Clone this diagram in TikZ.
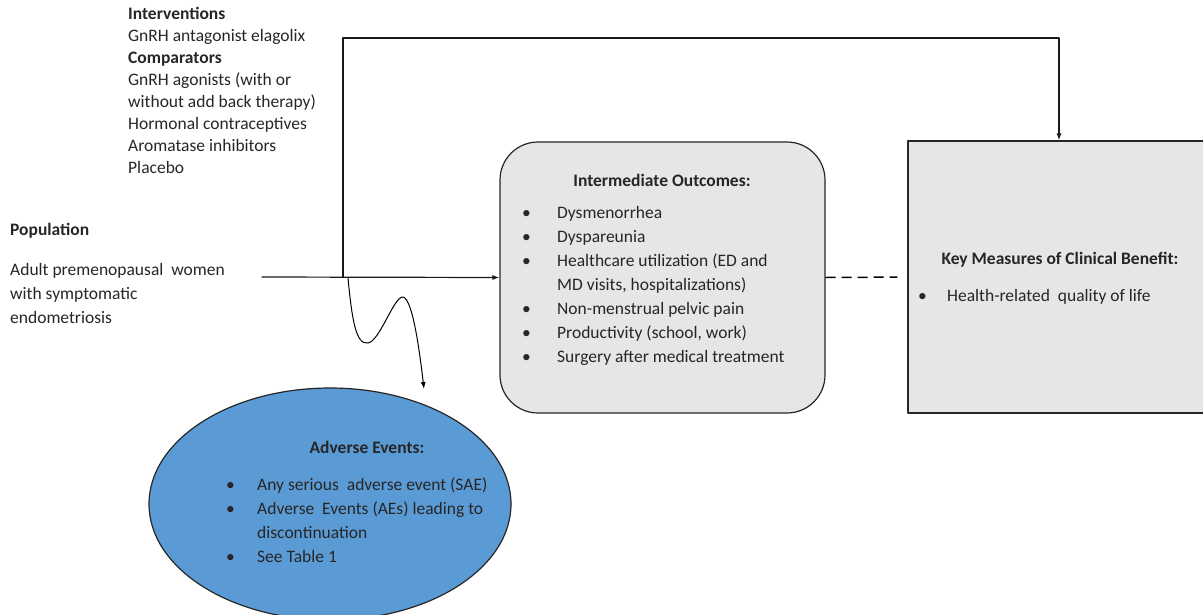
\documentclass[tikz,border=0pt]{standalone}
\usepackage{fontspec}
\setmainfont{Carlito}
\usetikzlibrary{calc, positioning}
\usetikzlibrary{arrows.meta}
\usetikzlibrary{shapes.geometric}

\definecolor{boxgray}{HTML}{E6E6E6}
\definecolor{aeblue}{HTML}{5B9BD5}
\definecolor{txtgray}{HTML}{262626}
\newcommand{\bitem}[1]{\makebox[35pt][l]{\textbullet}#1}

\begin{document}
\begin{tikzpicture}[x=1pt,y=-1pt,line cap=round,line join=round,
  txt/.style={inner sep=0pt, align=left, text=txtgray,
    font=\fontsize{17.5}{24}\selectfont},
  txttight/.style={txt, font=\fontsize{17.5}{22}\selectfont},
  boxline/.style={draw=black!85, line width=1.2pt},
  conn/.style={line width=1.2pt, draw=black!90}]
\path[use as bounding box] (0,0) rectangle (1203,614);
\clip (0,0) rectangle (1203,614);

% boxes
\node[boxline, fill=boxgray, rounded corners=38pt,
  minimum width=325pt, minimum height=271pt] (io) at (662.5,277.5) {};
\node[boxline, fill=boxgray, minimum width=302pt, minimum height=272pt]
  (km) at (1059,277) {};
\node[ellipse, boxline, fill=aeblue, minimum width=362pt,
  minimum height=232pt] (ae) at (330,504) {};

% left texts
\node[txttight, anchor=north west] (pico) at (128,7)
  {\textbf{Interventions}\\
   GnRH antagonist elagolix\\
   \textbf{Comparators}\\
   GnRH agonists (with or\\
   without add back therapy)\\
   Hormonal contraceptives\\
   Aromatase inhibitors\\
   Placebo};
\node[txt, anchor=north west] (poptitle) at (10,223) {\textbf{Population}};
\node[txt, anchor=north west] (pop) at (10,263)
  {Adult premenopausal\ \ women\\
   with symptomatic\\
   endometriosis};

% box texts
\node[txt] (iotitle) at (662,180) {\textbf{Intermediate Outcomes:}};
\node[txt, anchor=north west] (iolist) at (522,206)
  {\bitem{Dysmenorrhea}\\
   \bitem{Dyspareunia}\\
   \bitem{Healthcare utilization (ED and}\\
   \hspace*{35pt}MD visits, hospitalizations)\\
   \bitem{Non-menstrual pelvic pain}\\
   \bitem{Productivity (school, work)}\\
   \bitem{Surgery after medical treatment}};
\node[txt] (kmtitle) at (1060,260) {\textbf{Key Measures of Clinical Benefit:}};
\node[txt, anchor=north west] (kmlist) at (918,289)
  {\makebox[29pt][l]{\textbullet}Health-related\ \ quality of life};
\node[txt] (aetitle) at (367,447) {\textbf{Adverse Events:}};
\node[txt, anchor=north west] (aelist) at (226,477)
  {\makebox[31pt][l]{\textbullet}Any serious\ \ adverse event (SAE)\\
   \makebox[31pt][l]{\textbullet}Adverse\ \ Events (AEs) leading to\\
   \hspace*{31pt}discontinuation\\
   \makebox[31pt][l]{\textbullet}See Table 1};

% connectors
\coordinate (popend) at (262,277);
\coordinate (split) at (343,277);
\coordinate (wiggle) at (348,278);
\coordinate (aetip) at (424,389);

\draw[conn, -{Latex[length=7pt,width=5pt]}] (popend) -- (io.west);
\draw[conn, -{Latex[length=7pt,width=5pt]}] (split) -- (343,38) -| (km.north);
\draw[line width=1.5pt, dash pattern=on 10pt off 6pt, line cap=butt,
  shorten >=10pt] (io.east) -- (km.west);
\draw[line width=1pt, -{Latex[length=7pt,width=5pt]}] (wiggle)
  .. controls (352,320) and (356,345) .. (368,343)
  .. controls (380,341) and (394,296) .. (403,297)
  .. controls (413,299) and (420,355) .. (aetip);
\end{tikzpicture}
\end{document}
